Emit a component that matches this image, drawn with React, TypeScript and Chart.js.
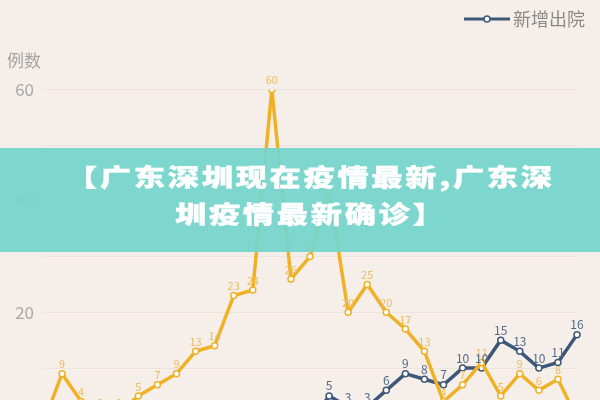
import React, { useEffect, useRef } from 'react';
import { Chart, registerables } from 'chart.js';

Chart.register(...registerables);

// ---- data ----
const categories: string[] = [
  '1', '2', '3', '4', '5', '6', '7', '8', '9', '10',
  '11', '12', '13', '14', '15', '16', '17', '18', '19', '20',
  '21', '22', '23', '24', '25', '26', '27', '28', '29',
];
const newConfirmed: number[] = [
  0, 9, 4, 2, 2, 5, 7, 9, 13, 14, 23, 24, 60, 26, 30, 42,
  20, 25, 20, 17, 13, 4, 7, 11, 5, 9, 6, 8, 1,
];
const newDischarged: number[] = [
  0, 0, 0, 0, 0, 0, 0, 0, 0, 0, 0, 0, 0, 0, 0, 5,
  3, 3, 6, 9, 8, 7, 10, 10, 15, 13, 10, 11, 16,
];
const yTickLabels: number[] = [0, 20, 40, 60];

const seriesNames = ['新增确诊', '新增出院'];
const yTitle = '例数';
const bannerLine1 = '【广东深圳现在疫情最新,广东深';
const bannerLine2 = '圳疫情最新确诊】';

const ORANGE = '#EFB126';
const ORANGE_LABEL = '#E9BC62';
const BLUE = '#3D5779';
const BLUE_LABEL = '#52698A';
const BG = '#F6EFE9';
const FONT = "'Noto Sans CJK SC', 'Noto Sans', sans-serif";

const valueLabels = {
  id: 'valueLabels',
  afterDatasetsDraw(chart: any) {
    const ctx = chart.ctx;
    ctx.save();
    ctx.textAlign = 'center';
    ctx.textBaseline = 'bottom';
    chart.data.datasets.forEach((ds: any, di: number) => {
      const meta = chart.getDatasetMeta(di);
      ctx.fillStyle = di === 0 ? ORANGE_LABEL : BLUE_LABEL;
      ctx.font = `${di === 0 ? 11 : 12}px ${FONT}`;
      meta.data.forEach((pt: any, i: number) => {
        const v = ds.data[i];
        ctx.fillText(String(v), pt.x, pt.y - 4);
      });
    });
    ctx.restore();
  },
};

function makeLegendIcon(): HTMLCanvasElement {
  const c = document.createElement('canvas');
  c.width = 46;
  c.height = 10;
  const g = c.getContext('2d')!;
  g.strokeStyle = BLUE;
  g.lineWidth = 3;
  g.beginPath();
  g.moveTo(0, 5);
  g.lineTo(46, 5);
  g.stroke();
  g.beginPath();
  g.arc(23, 5, 3, 0, Math.PI * 2);
  g.fillStyle = '#fff';
  g.fill();
  g.lineWidth = 1.5;
  g.stroke();
  return c;
}

export default function App() {
  const ref = useRef<HTMLCanvasElement | null>(null);

  useEffect(() => {
    if (!ref.current) return;
    const icon = makeLegendIcon();
    const chart = new Chart(ref.current, {
      type: 'line',
      data: {
        labels: categories,
        datasets: [
          {
            label: seriesNames[0],
            data: newConfirmed,
            borderColor: ORANGE,
            backgroundColor: '#ffffff',
            borderWidth: 3.5,
            pointRadius: 3,
            pointBorderWidth: 1.5,
            pointBackgroundColor: '#ffffff',
            pointBorderColor: ORANGE,
            tension: 0,
          },
          {
            label: seriesNames[1],
            data: newDischarged,
            borderColor: BLUE,
            backgroundColor: '#ffffff',
            borderWidth: 3.5,
            pointRadius: 3,
            pointBorderWidth: 1.5,
            pointBackgroundColor: '#ffffff',
            pointBorderColor: BLUE,
            tension: 0,
          },
        ],
      },
      options: {
        responsive: false,
        animation: false,
        layout: { padding: { left: 7, right: 5, top: 0, bottom: 17 } },
        plugins: {
          legend: {
            display: true,
            position: 'top',
            align: 'end',
            labels: {
              usePointStyle: true,
              pointStyleWidth: 34,
              color: '#8A8A8A',
              padding: 10,
              font: { size: 18, family: FONT },
              filter: (item: any) => item.datasetIndex === 1,
              generateLabels: (ch: any) => {
                const items = Chart.defaults.plugins.legend.labels.generateLabels(ch);
                return items.map((it: any) => ({ ...it, pointStyle: icon }));
              },
            },
          },
          title: {
            display: true,
            text: yTitle,
            align: 'start',
            position: 'top',
            weight: 500,
            color: '#A3A3A3',
            font: { size: 17, weight: 'normal', family: FONT },
            padding: { top: 12, bottom: 19 },
          },
          tooltip: { enabled: false },
        },
        scales: {
          x: {
            display: false,
            offset: false,
          },
          y: {
            min: 0,
            max: 60,
            border: { display: false },
            grid: { color: '#ECE4DD', drawTicks: false, lineWidth: 1 },
            ticks: {
              stepSize: 10,
              padding: 9,
              color: '#A9A9A9',
              font: { size: 17, family: FONT },
              callback: (v: any) => (yTickLabels.includes(Number(v)) ? String(v) : ''),
            },
            afterFit: (s: any) => {
              s.width = 36;
            },
          },
          y2: {
            position: 'right',
            display: true,
            border: { display: false },
            grid: { display: false, drawTicks: false },
            ticks: { display: false },
            afterFit: (s: any) => {
              s.width = 18;
            },
          },
        },
      } as any,
      plugins: [valueLabels],
    });
    return () => chart.destroy();
  }, []);

  const lineStyle: React.CSSProperties = {
    position: 'absolute',
    whiteSpace: 'nowrap',
    color: '#ffffff',
    fontFamily: FONT,
    fontWeight: 900,
    fontSize: '24px',
    lineHeight: '24px',
    letterSpacing: '2.1px',
    transform: 'scaleX(1.3)',
    transformOrigin: 'left center',
    WebkitTextStroke: '0.4px #ffffff',
  };

  return (
    <div
      style={{
        position: 'fixed',
        left: 0,
        top: 0,
        width: 600,
        height: 400,
        overflow: 'hidden',
        background: BG,
      }}
    >
      <canvas
        ref={ref}
        width={600}
        height={443}
        style={{ position: 'absolute', left: 0, top: 0, width: 600, height: 443 }}
      />
      <div
        style={{
          position: 'absolute',
          left: 0,
          top: 148,
          width: 600,
          height: 104,
          background: 'rgba(116, 213, 203, 0.93)',
        }}
      >
        <div style={{ ...lineStyle, left: 66, top: 16 }}>{bannerLine1}</div>
        <div style={{ ...lineStyle, left: 175, top: 53 }}>{bannerLine2}</div>
      </div>
    </div>
  );
}
